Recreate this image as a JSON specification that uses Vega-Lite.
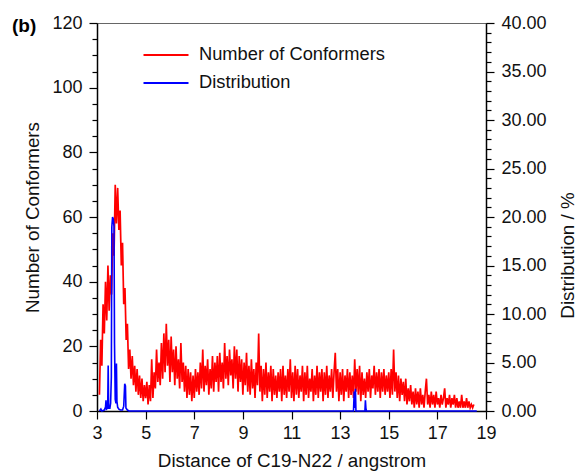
{
  "$schema": "https://vega.github.io/schema/vega-lite/v6.json",
  "autosize": "none",
  "width": 389,
  "height": 388,
  "padding": {"left": 97, "top": 23, "right": 91, "bottom": 61},
  "background": "white",
  "title": {"text": "(b)", "orient": "top", "anchor": "start", "frame": "group", "dx": -85, "dy": 37, "offset": 0, "baseline": "alphabetic", "fontSize": 19, "fontWeight": "bold", "font": "Liberation Sans", "color": "#000"},
  "config": {
    "font": "Liberation Sans",
    "view": {"stroke": "#666", "strokeWidth": 1},
    "axis": {"grid": false, "domainColor": "#000", "domainWidth": 1.5, "tickColor": "#000", "tickWidth": 1.2, "labelFont": "Liberation Sans", "labelFontSize": 18, "labelColor": "#111", "titleFont": "Liberation Sans", "titleFontSize": 18.8, "titleFontWeight": "normal", "titleColor": "#111", "labelOverlap": false, "labelFlush": false}
  },
  "datasets": {
    "conf": [
      {"d":3.10,"n":5},{"d":3.15,"n":22},{"d":3.20,"n":14},{"d":3.25,"n":33},{"d":3.30,"n":24},{"d":3.35,"n":40},{"d":3.40,"n":28},{"d":3.45,"n":45},{"d":3.50,"n":31},{"d":3.55,"n":42},
      {"d":3.60,"n":36},{"d":3.65,"n":55},{"d":3.70,"n":48},{"d":3.75,"n":70},{"d":3.80,"n":58},{"d":3.85,"n":69},{"d":3.90,"n":56},{"d":3.95,"n":62},{"d":4.00,"n":45},{"d":4.05,"n":52},
      {"d":4.10,"n":33},{"d":4.15,"n":38},{"d":4.20,"n":22},{"d":4.25,"n":27},{"d":4.30,"n":13},{"d":4.35,"n":19},{"d":4.40,"n":10},{"d":4.45,"n":17},{"d":4.50,"n":8},{"d":4.55,"n":14},
      {"d":4.60,"n":6},{"d":4.65,"n":13},{"d":4.70,"n":5},{"d":4.75,"n":11},{"d":4.80,"n":4},{"d":4.85,"n":10},{"d":4.90,"n":3},{"d":4.95,"n":8},{"d":5.00,"n":4},{"d":5.05,"n":9},
      {"d":5.10,"n":2},{"d":5.15,"n":8},{"d":5.20,"n":3},{"d":5.25,"n":16},{"d":5.30,"n":4},{"d":5.35,"n":12},{"d":5.40,"n":7},{"d":5.45,"n":19},{"d":5.50,"n":9},{"d":5.55,"n":15},
      {"d":5.60,"n":8},{"d":5.65,"n":21},{"d":5.70,"n":10},{"d":5.75,"n":24},{"d":5.80,"n":12},{"d":5.85,"n":27},{"d":5.90,"n":14},{"d":5.95,"n":22},{"d":6.00,"n":9},{"d":6.05,"n":23},
      {"d":6.10,"n":12},{"d":6.15,"n":19},{"d":6.20,"n":8},{"d":6.25,"n":20},{"d":6.30,"n":10},{"d":6.35,"n":16},{"d":6.40,"n":7},{"d":6.45,"n":21},{"d":6.50,"n":9},{"d":6.55,"n":15},
      {"d":6.60,"n":6},{"d":6.65,"n":14},{"d":6.70,"n":4},{"d":6.75,"n":13},{"d":6.80,"n":5},{"d":6.85,"n":12},{"d":6.90,"n":3},{"d":6.95,"n":11},{"d":7.00,"n":4},{"d":7.05,"n":13},
      {"d":7.10,"n":6},{"d":7.15,"n":12},{"d":7.20,"n":5},{"d":7.25,"n":15},{"d":7.30,"n":7},{"d":7.35,"n":19},{"d":7.40,"n":6},{"d":7.45,"n":14},{"d":7.50,"n":8},{"d":7.55,"n":16},
      {"d":7.60,"n":5},{"d":7.65,"n":13},{"d":7.70,"n":7},{"d":7.75,"n":17},{"d":7.80,"n":6},{"d":7.85,"n":15},{"d":7.90,"n":9},{"d":7.95,"n":17},{"d":8.00,"n":6},{"d":8.05,"n":18},
      {"d":8.10,"n":9},{"d":8.15,"n":15},{"d":8.20,"n":7},{"d":8.25,"n":21},{"d":8.30,"n":10},{"d":8.35,"n":17},{"d":8.40,"n":8},{"d":8.45,"n":19},{"d":8.50,"n":11},{"d":8.55,"n":16},
      {"d":8.60,"n":7},{"d":8.65,"n":20},{"d":8.70,"n":10},{"d":8.75,"n":19},{"d":8.80,"n":6},{"d":8.85,"n":17},{"d":8.90,"n":9},{"d":8.95,"n":16},{"d":9.00,"n":5},{"d":9.05,"n":15},
      {"d":9.10,"n":8},{"d":9.15,"n":18},{"d":9.20,"n":6},{"d":9.25,"n":14},{"d":9.30,"n":5},{"d":9.35,"n":16},{"d":9.40,"n":7},{"d":9.45,"n":13},{"d":9.50,"n":4},{"d":9.55,"n":15},
      {"d":9.60,"n":8},{"d":9.65,"n":24},{"d":9.70,"n":6},{"d":9.75,"n":14},{"d":9.80,"n":3},{"d":9.85,"n":13},{"d":9.90,"n":5},{"d":9.95,"n":15},{"d":10.00,"n":4},{"d":10.05,"n":12},
      {"d":10.10,"n":6},{"d":10.15,"n":14},{"d":10.20,"n":3},{"d":10.25,"n":13},{"d":10.30,"n":5},{"d":10.35,"n":11},{"d":10.40,"n":4},{"d":10.45,"n":12},{"d":10.50,"n":6},{"d":10.55,"n":13},
      {"d":10.60,"n":3},{"d":10.65,"n":14},{"d":10.70,"n":5},{"d":10.75,"n":11},{"d":10.80,"n":4},{"d":10.85,"n":13},{"d":10.90,"n":6},{"d":10.95,"n":16},{"d":11.00,"n":4},{"d":11.05,"n":12},
      {"d":11.10,"n":3},{"d":11.15,"n":14},{"d":11.20,"n":5},{"d":11.25,"n":13},{"d":11.30,"n":4},{"d":11.35,"n":11},{"d":11.40,"n":6},{"d":11.45,"n":14},{"d":11.50,"n":3},{"d":11.55,"n":12},
      {"d":11.60,"n":5},{"d":11.65,"n":14},{"d":11.70,"n":4},{"d":11.75,"n":10},{"d":11.80,"n":6},{"d":11.85,"n":13},{"d":11.90,"n":3},{"d":11.95,"n":11},{"d":12.00,"n":5},{"d":12.05,"n":14},
      {"d":12.10,"n":4},{"d":12.15,"n":12},{"d":12.20,"n":6},{"d":12.25,"n":13},{"d":12.30,"n":3},{"d":12.35,"n":12},{"d":12.40,"n":5},{"d":12.45,"n":14},{"d":12.50,"n":4},{"d":12.55,"n":11},
      {"d":12.60,"n":6},{"d":12.65,"n":13},{"d":12.70,"n":4},{"d":12.75,"n":12},{"d":12.80,"n":18},{"d":12.85,"n":6},{"d":12.90,"n":13},{"d":12.95,"n":3},{"d":13.00,"n":12},{"d":13.05,"n":5},
      {"d":13.10,"n":13},{"d":13.15,"n":3},{"d":13.20,"n":11},{"d":13.25,"n":6},{"d":13.30,"n":13},{"d":13.35,"n":4},{"d":13.40,"n":12},{"d":13.45,"n":5},{"d":13.50,"n":11},{"d":13.55,"n":4},
      {"d":13.60,"n":16},{"d":13.65,"n":6},{"d":13.70,"n":13},{"d":13.75,"n":5},{"d":13.80,"n":14},{"d":13.85,"n":3},{"d":13.90,"n":12},{"d":13.95,"n":5},{"d":14.00,"n":10},{"d":14.05,"n":4},
      {"d":14.10,"n":12},{"d":14.15,"n":6},{"d":14.20,"n":13},{"d":14.25,"n":4},{"d":14.30,"n":11},{"d":14.35,"n":7},{"d":14.40,"n":14},{"d":14.45,"n":5},{"d":14.50,"n":12},{"d":14.55,"n":6},
      {"d":14.60,"n":13},{"d":14.65,"n":4},{"d":14.70,"n":12},{"d":14.75,"n":6},{"d":14.80,"n":13},{"d":14.85,"n":5},{"d":14.90,"n":11},{"d":14.95,"n":6},{"d":15.00,"n":12},{"d":15.05,"n":4},
      {"d":15.10,"n":13},{"d":15.15,"n":5},{"d":15.20,"n":19},{"d":15.25,"n":6},{"d":15.30,"n":12},{"d":15.35,"n":4},{"d":15.40,"n":11},{"d":15.45,"n":3},{"d":15.50,"n":10},{"d":15.55,"n":5},
      {"d":15.60,"n":9},{"d":15.65,"n":3},{"d":15.70,"n":10},{"d":15.75,"n":2},{"d":15.80,"n":7},{"d":15.85,"n":3},{"d":15.90,"n":8},{"d":15.95,"n":2},{"d":16.00,"n":6},{"d":16.05,"n":1},
      {"d":16.10,"n":7},{"d":16.15,"n":2},{"d":16.20,"n":6},{"d":16.25,"n":1},{"d":16.30,"n":7},{"d":16.35,"n":2},{"d":16.40,"n":5},{"d":16.45,"n":1},{"d":16.50,"n":6},{"d":16.55,"n":10},
      {"d":16.60,"n":2},{"d":16.65,"n":5},{"d":16.70,"n":1},{"d":16.75,"n":6},{"d":16.80,"n":2},{"d":16.85,"n":5},{"d":16.90,"n":1},{"d":16.95,"n":6},{"d":17.00,"n":2},{"d":17.05,"n":4},
      {"d":17.10,"n":1},{"d":17.15,"n":5},{"d":17.20,"n":2},{"d":17.25,"n":4},{"d":17.30,"n":7},{"d":17.35,"n":1},{"d":17.40,"n":4},{"d":17.45,"n":2},{"d":17.50,"n":5},{"d":17.55,"n":1},
      {"d":17.60,"n":4},{"d":17.65,"n":2},{"d":17.70,"n":5},{"d":17.75,"n":1},{"d":17.80,"n":4},{"d":17.85,"n":1},{"d":17.90,"n":3},{"d":17.95,"n":1},{"d":18.00,"n":5},{"d":18.05,"n":1},
      {"d":18.10,"n":3},{"d":18.15,"n":1},{"d":18.20,"n":4},{"d":18.25,"n":1},{"d":18.30,"n":3},{"d":18.35,"n":1},{"d":18.40,"n":2},{"d":18.45,"n":1},{"d":18.50,"n":2}
    ],
    "dist": [
      {"d":3.10,"p":0},{"d":3.16,"p":0.2},{"d":3.20,"p":0},{"d":3.30,"p":0.1},{"d":3.35,"p":0.4},{"d":3.37,"p":1.1},{"d":3.39,"p":0.2},{"d":3.44,"p":0.3},{"d":3.46,"p":4.7},{"d":3.48,"p":0.3},
      {"d":3.53,"p":0.3},{"d":3.56,"p":0.8},{"d":3.59,"p":3.5},{"d":3.61,"p":19.0},{"d":3.64,"p":20.0},{"d":3.67,"p":19.8},{"d":3.70,"p":19.0},{"d":3.72,"p":7.0},{"d":3.75,"p":1.2},{"d":3.78,"p":0.8},
      {"d":3.80,"p":4.9},{"d":3.82,"p":1.0},{"d":3.85,"p":0.4},{"d":3.90,"p":0.2},{"d":3.96,"p":0.1},{"d":4.05,"p":0.1},{"d":4.10,"p":0.5},{"d":4.14,"p":2.8},{"d":4.17,"p":2.6},{"d":4.19,"p":0.3},
      {"d":4.25,"p":0.1},{"d":4.32,"p":0},{"d":13.55,"p":0},{"d":13.58,"p":2.0},{"d":13.60,"p":0.3},{"d":13.63,"p":2.3},{"d":13.65,"p":0},{"d":14.02,"p":0},{"d":14.04,"p":1.1},{"d":14.06,"p":0.3},
      {"d":14.08,"p":0},{"d":18.62,"p":0}
    ]
  },
  "layer": [
    {
      "data": {"name": "conf"},
      "mark": {"type": "line", "strokeWidth": 1.7, "interpolate": "linear"},
      "encoding": {
        "x": {"field": "d", "type": "quantitative", "scale": {"domain": [3, 19], "nice": false, "zero": false},
          "axis": {"title": "Distance of C19-N22 / angstrom", "values": [3,3.5,4,4.5,5,5.5,6,6.5,7,7.5,8,8.5,9,9.5,10,10.5,11,11.5,12,12.5,13,13.5,14,14.5,15,15.5,16,16.5,17,17.5,18,18.5,19],
            "labelExpr": "(datum.value - 3) % 2 === 0 ? format(datum.value, 'd') : ''",
            "tickSize": {"condition": {"test": "(datum.value - 3) % 2 === 0", "value": 8}, "value": 5},
            "labelPadding": 5, "titleY": 55, "titleBaseline": "alphabetic"}},
        "y": {"field": "n", "type": "quantitative", "scale": {"domain": [0, 120], "nice": false},
          "axis": {"orient": "left", "title": "Number of Conformers", "values": [0,5,10,15,20,25,30,35,40,45,50,55,60,65,70,75,80,85,90,95,100,105,110,115,120],
            "labelExpr": "datum.value % 20 === 0 ? format(datum.value, 'd') : ''",
            "tickSize": {"condition": {"test": "datum.value % 20 === 0", "value": 8}, "value": 5},
            "labelPadding": 7, "titleX": -65, "titleY": 194, "titleAngle": -90, "titleBaseline": "middle", "titleAlign": "center"}},
        "color": {"datum": "Number of Conformers", "type": "nominal",
          "scale": {"domain": ["Number of Conformers", "Distribution"], "range": ["#ff0000", "#0000ff"]},
          "legend": {"orient": "none", "legendX": 45, "legendY": 22, "title": null, "symbolType": "stroke", "symbolSize": 2025, "symbolStrokeWidth": 2.2, "clipHeight": 20, "rowPadding": 8, "labelOffset": 9, "labelFontSize": 18.3, "labelLimit": 400, "labelFont": "Liberation Sans", "labelColor": "#111", "padding": 0}}
      }
    },
    {
      "data": {"name": "dist"},
      "mark": {"type": "line", "strokeWidth": 1.6, "interpolate": "linear"},
      "encoding": {
        "x": {"field": "d", "type": "quantitative"},
        "y": {"field": "p", "type": "quantitative", "scale": {"domain": [0, 40], "nice": false},
          "axis": {"orient": "right", "title": "Distribution / %", "format": ".2f", "values": [0,1,2,3,4,5,6,7,8,9,10,11,12,13,14,15,16,17,18,19,20,21,22,23,24,25,26,27,28,29,30,31,32,33,34,35,36,37,38,39,40],
            "labelExpr": "datum.value % 5 === 0 ? format(datum.value, '.2f') : ''",
            "tickSize": {"condition": {"test": "datum.value % 5 === 0", "value": 8}, "value": 5},
            "labelPadding": 7, "titleX": 81, "titleY": 232, "titleAngle": -90, "titleBaseline": "middle", "titleAlign": "center"}},
        "color": {"datum": "Distribution", "type": "nominal"}
      }
    }
  ],
  "resolve": {"scale": {"y": "independent"}}
}
